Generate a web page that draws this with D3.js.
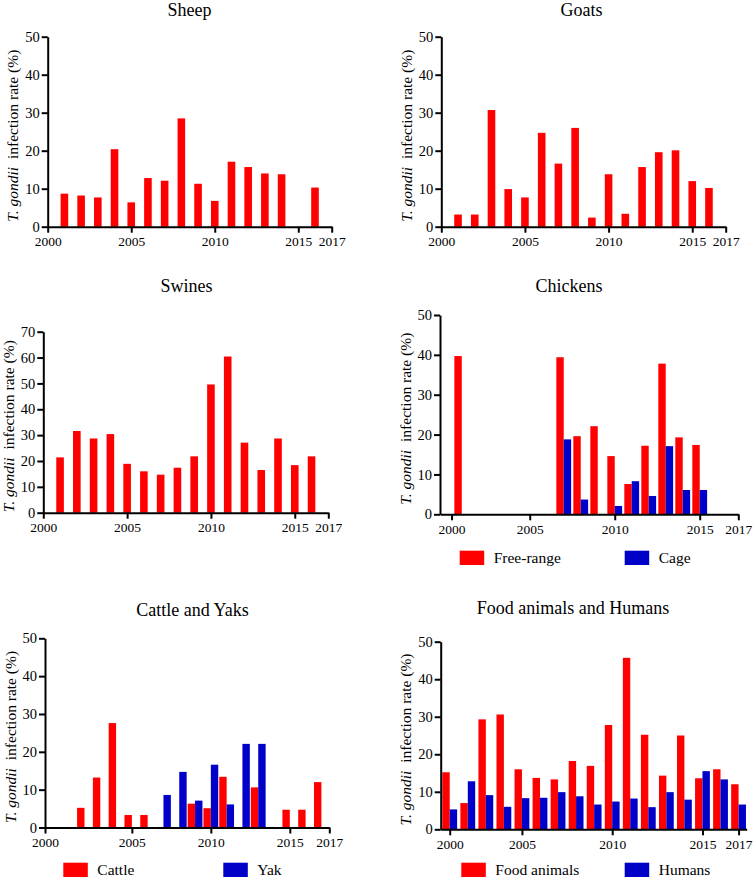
<!DOCTYPE html>
<html>
<head>
<meta charset="utf-8">
<script src="https://cdn.jsdelivr.net/npm/d3@7"></script>
<style>
  body { margin: 0; background: #fff; }
  svg { display: block; background: #fff; }
  .axis path, .axis line { stroke: #000; stroke-width: 2; }
  .axis text { font-family: "Liberation Serif", "Times New Roman", serif; fill: #000; }
  .xaxis text { font-size: 13.5px; }
  .yaxis text { font-size: 14.5px; }
  .title { font-family: "Liberation Serif", "Times New Roman", serif; font-size: 18px; text-anchor: middle; }
  .ylabel { font-family: "Liberation Serif", "Times New Roman", serif; font-size: 15.5px; text-anchor: middle; }
  .legend { font-family: "Liberation Serif", "Times New Roman", serif; font-size: 15.5px; }
</style>
</head>
<body>
<div id="chart"></div>
<script>
// tick labels shared by every panel
const xTickLabels = ["2000", "2005", "2010", "2015", "2017"]

// sheep
const sheepYears = [2001, 2002, 2003, 2004, 2005, 2006, 2007, 2008, 2009, 2010, 2011, 2012, 2013, 2014, 2016]
const sheepRate = [8.7, 8.2, 7.7, 20.4, 6.4, 12.8, 12.1, 28.5, 11.3, 6.8, 17.1, 15.7, 14.0, 13.8, 10.3]

// goats
const goatYears = [2001, 2002, 2003, 2004, 2005, 2006, 2007, 2008, 2009, 2010, 2011, 2012, 2013, 2014, 2015, 2016]
const goatRate = [3.2, 3.2, 30.7, 9.9, 7.7, 24.7, 16.6, 26.0, 2.4, 13.8, 3.4, 15.7, 19.6, 20.1, 12.0, 10.2]

// swines
const swineYears = [2001, 2002, 2003, 2004, 2005, 2006, 2007, 2008, 2009, 2010, 2011, 2012, 2013, 2014, 2015, 2016]
const swineRate = [21.4, 31.6, 28.7, 30.4, 18.9, 16.0, 14.7, 17.4, 21.8, 49.6, 60.4, 27.1, 16.5, 28.7, 18.4, 21.8]

// chickens
const freeRangeYears = [2001, 2007, 2008, 2009, 2010, 2011, 2012, 2013, 2014, 2015]
const freeRangeRate = [39.7, 39.4, 19.6, 22.1, 14.6, 7.6, 17.2, 37.8, 19.3, 17.4]
const cageYears = [2007, 2008, 2010, 2011, 2012, 2013, 2014, 2015]
const cageRate = [18.8, 3.7, 2.1, 8.3, 4.6, 17.1, 6.1, 6.1]

// cattle and yaks
const cattleYears = [2002, 2003, 2004, 2005, 2006, 2009, 2010, 2011, 2013, 2015, 2016, 2017]
const cattleRate = [5.2, 13.2, 27.6, 3.3, 3.3, 6.3, 5.1, 13.4, 10.6, 4.7, 4.7, 12.0]
const yakYears = [2007, 2008, 2009, 2010, 2011, 2012, 2013]
const yakRate = [8.6, 14.7, 7.1, 16.6, 6.1, 22.1, 22.1]

// food animals and humans
const foodYears = [2001, 2002, 2003, 2004, 2005, 2006, 2007, 2008, 2009, 2010, 2011, 2012, 2013, 2014, 2015, 2016, 2017]
const foodRate = [15.2, 7.0, 29.3, 30.6, 16.0, 13.7, 13.3, 18.2, 16.9, 27.8, 45.7, 25.2, 14.3, 25.0, 13.6, 16.0, 12.0]
const humanRate = [5.3, 12.8, 9.1, 6.0, 8.3, 8.4, 9.9, 8.8, 6.6, 7.4, 8.2, 5.9, 9.9, 7.9, 15.5, 13.3, 6.6]

const RED = "#ff0000"
const BLUE = "#0000c8"

const zip = (ys, vs) => ys.map((year, i) => ({ year, value: vs[i] }))

// layout of the six panels (pixel positions), data attached by name
const panels = [
  { title: "Sheep", tx: 189.5, ty: 16, left: 47.7, right: 331.7, y0: 226.7, yTop: 36.7, yMax: 50,
    domain: [2000, 2017], ticks: [2000, 2005, 2010, 2015, 2017], mode: "single",
    series: [{ name: "Sheep", color: RED, data: zip(sheepYears, sheepRate) }] },
  { title: "Goats", tx: 581.5, ty: 16, left: 441.3, right: 725.7, y0: 226.7, yTop: 36.7, yMax: 50,
    domain: [2000, 2017], ticks: [2000, 2005, 2010, 2015, 2017], mode: "single",
    series: [{ name: "Goats", color: RED, data: zip(goatYears, goatRate) }] },
  { title: "Swines", tx: 186.5, ty: 291.5, left: 43.3, right: 328.3, y0: 512.7, yTop: 331.7, yMax: 70,
    domain: [2000, 2017], ticks: [2000, 2005, 2010, 2015, 2017], mode: "single",
    series: [{ name: "Swines", color: RED, data: zip(swineYears, swineRate) }] },
  { title: "Chickens", tx: 569, ty: 291.5, left: 440, right: 738.3, y0: 514.3, yTop: 315, yMax: 50,
    domain: [1999.72, 2017.27], ticks: [2000.4, 2005, 2010, 2015, 2017.27], mode: "grouped",
    legendY: 550.7, legendX: [459.7, 624.7],
    series: [{ name: "Free-range", color: RED, data: zip(freeRangeYears, freeRangeRate) },
             { name: "Cage", color: BLUE, data: zip(cageYears, cageRate) }] },
  { title: "Cattle and Yaks", tx: 192.5, ty: 615.5, left: 45, right: 329.3, y0: 827.5, yTop: 638.3, yMax: 50,
    domain: [1999.5, 2017.5], ticks: [1999.5, 2005, 2010, 2015, 2017.5], mode: "grouped",
    legendY: 862.7, legendX: [63.3, 223.3],
    series: [{ name: "Cattle", color: RED, data: zip(cattleYears, cattleRate) },
             { name: "Yak", color: BLUE, data: zip(yakYears, yakRate) }] },
  { title: "Food animals and Humans", tx: 573, ty: 614.3, left: 440.7, right: 746.7, y0: 829.3, yTop: 641.7, yMax: 50,
    domain: [2000.5, 2017.45], ticks: [2001, 2005, 2010, 2015, 2017], mode: "grouped",
    legendY: 862.7, legendX: [461.3, 624.7],
    series: [{ name: "Food animals", color: RED, data: zip(foodYears, foodRate) },
             { name: "Humans", color: BLUE, data: zip(foodYears, humanRate) }] }
]

const svg = d3.select("#chart").append("svg")
  .attr("width", 756)
  .attr("height", 880)

panels.forEach(p => {
  const x = d3.scaleLinear().domain(p.domain).range([p.left, p.right])
  const y = d3.scaleLinear().domain([0, p.yMax]).range([p.y0, p.yTop])
  const g = svg.append("g")

  // bars
  p.series.forEach((s, si) => {
    const w = p.mode === "single" ? 7.6 : 7.4
    g.selectAll(null)
      .data(s.data)
      .enter()
      .append("rect")
      .attr("x", d => p.mode === "single" ? x(d.year) - w / 2 : (si === 0 ? x(d.year) - w : x(d.year)))
      .attr("y", d => y(d.value))
      .attr("width", w)
      .attr("height", d => y(0) - y(d.value))
      .attr("fill", s.color)
  })

  // x axis
  const xa = g.append("g")
    .attr("class", "axis xaxis")
    .attr("transform", `translate(0,${p.y0})`)
    .call(d3.axisBottom(x).tickValues(p.ticks).tickFormat((d, i) => xTickLabels[i])
      .tickSize(6).tickPadding(4).tickSizeOuter(0))
  xa.attr("font-size", null).attr("font-family", null)

  // y axis
  const ya = g.append("g")
    .attr("class", "axis yaxis")
    .attr("transform", `translate(${p.left},0)`)
    .call(d3.axisLeft(y).tickValues(d3.range(0, p.yMax + 1, 10))
      .tickSize(6).tickPadding(2).tickSizeOuter(0))
  ya.attr("font-size", null).attr("font-family", null)

  // title
  g.append("text")
    .attr("class", "title")
    .attr("x", p.tx)
    .attr("y", p.ty)
    .text(p.title)

  // y axis label
  const lab = g.append("text")
    .attr("class", "ylabel")
    .attr("transform", `translate(${p.left - 29.5},${(p.y0 + p.yTop) / 2 + 4}) rotate(-90)`)
  lab.append("tspan").style("font-style", "italic").text("T. gondii")
  lab.append("tspan").attr("dx", 4).text(" infection rate (%)")

  // legend for two-series panels
  if (p.series.length > 1) {
    p.series.forEach((s, si) => {
      g.append("rect")
        .attr("x", p.legendX[si])
        .attr("y", p.legendY)
        .attr("width", 24.5)
        .attr("height", 14.3)
        .attr("fill", s.color)
      g.append("text")
        .attr("class", "legend")
        .attr("x", p.legendX[si] + 34)
        .attr("y", p.legendY + 12.5)
        .text(s.name)
    })
  }
})
</script>
</body>
</html>
